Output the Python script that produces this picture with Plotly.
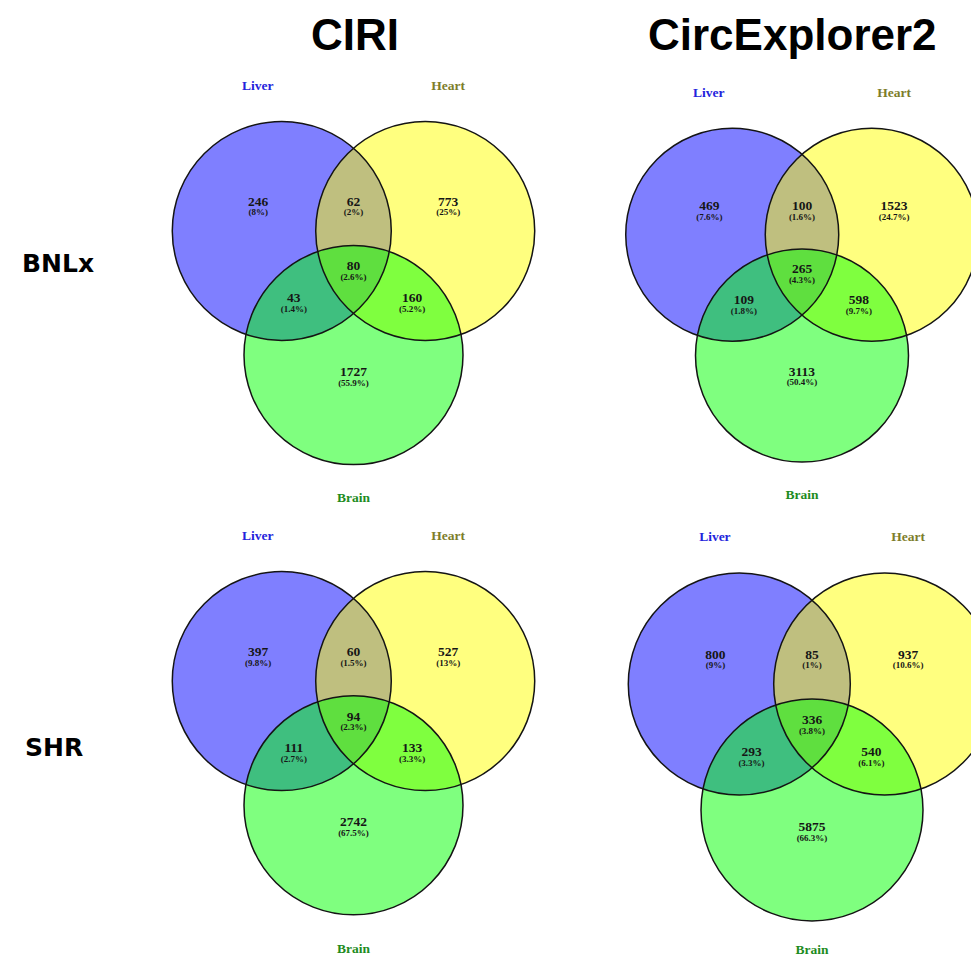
import math
import plotly.graph_objects as go

# Three-way overlap of circRNAs detected in liver, heart and brain
SETS = ["Liver", "Heart", "Brain"]
SET_COLORS = ["#2323dc", "#7d7d2a", "#1e8c1e"]
SET_FILLS = ["rgba(0,0,255,0.5)", "rgba(255,255,0,0.5)", "rgba(0,255,0,0.5)"]

# region order: Liver only, Liver&Heart, Heart only, all three, Liver&Brain, Heart&Brain, Brain only
REGIONS = ["L", "LH", "H", "LHB", "LB", "HB", "B"]

METHODS = ["CIRI", "CircExplorer2"]
STRAINS = ["BNLx", "SHR"]

ciri_bnlx = [246, 62, 773, 80, 43, 160, 1727]
ce2_bnlx = [469, 100, 1523, 265, 109, 598, 3113]
ciri_shr = [397, 60, 527, 94, 111, 133, 2742]
ce2_shr = [800, 85, 937, 336, 293, 540, 5875]

W, H = 971, 959

# panel layout: counts, centroid x, centroid y, circle radius (px), brain-label offset
panels = [
    (ciri_bnlx, 353.5, 272.3, 109.5, 2.07),
    (ce2_bnlx, 802.0, 275.0, 106.5, 2.07),
    (ciri_shr, 353.5, 722.5, 109.5, 2.07),
    (ce2_shr, 812.0, 726.0, 111.0, 2.02),
]

# label anchor offsets in units of the radius, relative to the centroid
REGION_POS = {
    "L": (-0.87, -0.59), "LH": (0.0, -0.59), "H": (0.865, -0.59),
    "LHB": (0.0, 0.0), "LB": (-0.545, 0.29), "HB": (0.535, 0.29),
    "B": (0.0, 0.965),
}


def pct_text(v, total):
    s = "%.1f" % (100.0 * v / total)
    if s.endswith(".0"):
        s = s[:-2]
    return "(" + s + "%)"


fig = go.Figure()
fill_shapes, line_shapes = [], []

for counts, cx, cy, r, brain_off in panels:
    d = 1.31 * r
    centers = [
        (cx - d / 2, cy - d / (2 * math.sqrt(3))),
        (cx + d / 2, cy - d / (2 * math.sqrt(3))),
        (cx, cy + d / math.sqrt(3)),
    ]
    for (ox, oy), fc in zip(centers, SET_FILLS):
        fill_shapes.append(dict(type="circle", xref="x", yref="y",
                                x0=ox - r, x1=ox + r, y0=oy - r, y1=oy + r,
                                fillcolor=fc, line=dict(width=0), layer="below"))
        line_shapes.append(dict(type="circle", xref="x", yref="y",
                                x0=ox - r, x1=ox + r, y0=oy - r, y1=oy + r,
                                fillcolor="rgba(0,0,0,0)",
                                line=dict(color="#141414", width=1.5), layer="below"))

    total = sum(counts)
    xs = [cx + REGION_POS[k][0] * r for k in REGIONS]
    ys = [cy + REGION_POS[k][1] * r for k in REGIONS]
    fig.add_trace(go.Scatter(
        x=xs, y=[y - 5.2 for y in ys], mode="text",
        text=[str(v) for v in counts],
        textfont=dict(family="Liberation Serif", size=13.5, color="#161616", weight="bold"),
        hoverinfo="skip", showlegend=False))
    fig.add_trace(go.Scatter(
        x=xs, y=[y + 5.4 for y in ys], mode="text",
        text=[pct_text(v, total) for v in counts],
        textfont=dict(family="Liberation Serif", size=9, color="#161616", weight="bold"),
        hoverinfo="skip", showlegend=False))
    set_pos = [(-0.875, -1.70), (0.865, -1.70), (0.0, brain_off)]
    fig.add_trace(go.Scatter(
        x=[cx + p[0] * r for p in set_pos],
        y=[cy + p[1] * r for p in set_pos],
        mode="text", text=SETS,
        textfont=dict(family="Liberation Serif", size=13.5, color=SET_COLORS, weight="bold"),
        hoverinfo="skip", showlegend=False))

annotations = []
for name, x in zip(METHODS, [355, 792]):
    annotations.append(dict(x=x, y=34, xref="x", yref="y", text=name, showarrow=False,
                            xanchor="center", yanchor="middle",
                            font=dict(family="Liberation Sans", size=44, color="#000000",
                                      weight="bold")))
for name, (x, y) in zip(STRAINS, [(57.5, 263), (54, 747)]):
    annotations.append(dict(x=x, y=y, xref="x", yref="y", text=name, showarrow=False,
                            xanchor="center", yanchor="middle",
                            font=dict(family="DejaVu Sans", size=25, color="#000000",
                                      weight="bold")))

fig.update_layout(
    width=W, height=H,
    margin=dict(l=0, r=0, t=0, b=0),
    paper_bgcolor="white", plot_bgcolor="white",
    shapes=fill_shapes + line_shapes,
    annotations=annotations,
    xaxis=dict(range=[0, W], visible=False, fixedrange=True),
    yaxis=dict(range=[H, 0], visible=False, fixedrange=True),
)

fig.write_html("out.html")
